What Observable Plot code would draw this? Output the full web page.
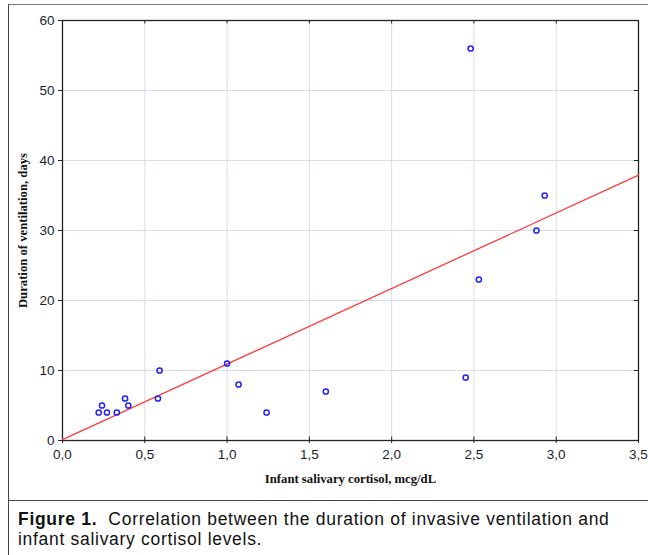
<!DOCTYPE html>
<html>
<head>
<meta charset="utf-8">
<script src="https://cdn.jsdelivr.net/npm/d3@7"></script>
<script src="https://cdn.jsdelivr.net/npm/@observablehq/plot@0.6"></script>
<style>
  html, body { margin: 0; padding: 0; background: #fff; }
  #fig { position: absolute; left: 8px; top: 4px; width: 640px; height: 560px;
         border-left: 1.5px solid #444; border-top: 1.5px solid #777; }
  #chart svg { display: block; }
  #cap { border-top: 1.5px solid #444; padding: 8px 0 0 9px;
         font-family: "Liberation Sans", Arial, sans-serif; font-size: 17.5px; line-height: 20px;
         letter-spacing: 0.7px; color: #111; }
  #cap .l { display: block; white-space: nowrap; height: 20px; }
  #cap b { font-weight: 700; }
</style>
</head>
<body>
<div id="fig">
  <div id="chart"></div>
  <div id="cap"><span class="l"><b>Figure 1.</b>&nbsp; Correlation between the duration of invasive ventilation and</span><span class="l">infant salivary cortisol levels.</span></div>
</div>
<script>
const cortisol = [0.22, 0.24, 0.27, 0.33, 0.38, 0.40, 0.58, 0.59, 1.00, 1.07, 1.24, 1.60, 2.45, 2.48, 2.53, 2.88, 2.93];
const days     = [4,    5,    4,    4,    6,    5,    6,    10,   11,   8,    4,    7,    9,    56,   23,   30,   35];
const fitX = [0, 3.5];
const fitY = [0.13, 37.9];
const xTicks = [0, 0.5, 1, 1.5, 2, 2.5, 3, 3.5];
const yTicks = [0, 10, 20, 30, 40, 50, 60];
const xLabel = "Infant salivary cortisol, mcg/dL";
const yLabel = "Duration of ventilation, days";

const points = cortisol.map((c, i) => ({x: c, y: days[i]}));
const fit = fitX.map((x, i) => ({x, y: fitY[i]}));
const fmt = d => d.toFixed(1).replace(".", ",");

const chart = Plot.plot({
  width: 639,
  height: 495,
  marginLeft: 53,
  marginRight: 10,
  marginTop: 15,
  marginBottom: 60,
  style: {fontFamily: "'Liberation Sans', Arial, sans-serif", fontSize: "13.5px", color: "#1c1c30", background: "transparent"},
  x: {domain: [0, 3.5]},
  y: {domain: [0, 60]},
  marks: [
    Plot.gridX(xTicks, {stroke: "#d6dcea", strokeOpacity: 1, strokeWidth: 1}),
    Plot.gridY(yTicks, {stroke: "#d6dcea", strokeOpacity: 1, strokeWidth: 1}),
    Plot.ruleX(xTicks, {y1: 0, y2: 0.5, stroke: "#222"}),
    Plot.ruleX(xTicks, {y1: 59.5, y2: 60, stroke: "#222"}),
    Plot.ruleY(yTicks, {x1: 3.475, x2: 3.5, stroke: "#222"}),
    Plot.frame({stroke: "#222", strokeWidth: 1.3}),
    Plot.axisY(yTicks, {tickSize: 4, tickPadding: 4, label: null, tickFormat: d => String(d), stroke: "#222"}),
    Plot.axisX(xTicks, {tickSize: 3, tickPadding: 6, label: null, tickFormat: fmt, stroke: "#222"}),
    Plot.line(fit, {x: "x", y: "y", stroke: "#ff3b3b", strokeWidth: 1.3}),
    Plot.dot(points, {x: "x", y: "y", r: 2.6, stroke: "#2020ff", strokeWidth: 1.5, fill: "none"}),
    Plot.text([xLabel], {frameAnchor: "bottom", dy: 42, text: d => d, fontFamily: "'Liberation Serif', 'Times New Roman', serif", fontWeight: "bold", fontSize: 12.7, fill: "#111"}),
    Plot.text([yLabel], {frameAnchor: "left", textAnchor: "middle", dx: -40, rotate: -90, text: d => d, fontFamily: "'Liberation Serif', 'Times New Roman', serif", fontWeight: "bold", fontSize: 12.7, fill: "#111"})
  ]
});
document.getElementById("chart").appendChild(chart);
</script>
</body>
</html>
